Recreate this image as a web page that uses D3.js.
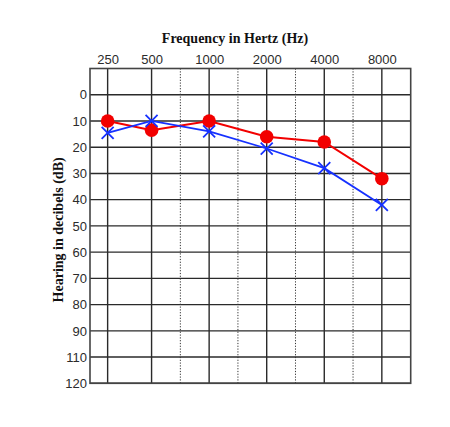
<!DOCTYPE html>
<html lang="en">

<head>
    <meta charset="UTF-8">
    <title>Audiogram</title>
    <style>
        body { margin: 0; background: #fff; }
    </style>
</head>

<body>
    <div id="my_dataviz"></div>
    <script src="https://d3js.org/d3.v7.min.js"></script>
    <script>

        // data
        var frequencies = [250, 500, 1000, 2000, 4000, 8000];
        var rightEar = [10, 13.5, 10, 16, 18, 32];   // red circles
        var leftEar = [14.5, 10, 14, 20.5, 28, 42];  // blue crosses
        var dbTicks = [0, 10, 20, 30, 40, 50, 60, 70, 80, 90, 100, 110];
        var dbTickLabels = ["0", "10", "20", "30", "40", "50", "60", "70", "80", "90", "110", "120"];

        // set the dimensions and margins of the graph
        var W = 450, H = 427;
        var margin = { top: 68.5, right: 39.3, bottom: 43.7, left: 90 },
            width = W - margin.left - margin.right,
            height = H - margin.top - margin.bottom;

        var svg = d3.select("#my_dataviz")
            .append("svg")
            .attr("width", W)
            .attr("height", H)
            .append("g")
            .attr("transform", "translate(" + margin.left + "," + margin.top + ")");

        // X: log spacing per octave, the first column is squeezed
        var x = d3.scaleLog()
            .domain([250, 500, 8000])
            .range([width * 0.055, width * 0.192, width * 0.910]);

        // Y: one row per 10 dB, the top row is above 0
        var y = d3.scaleLinear()
            .domain([-10, 110])
            .range([0, height]);

        var gridColor = "#2a2a2a";

        // horizontal grid
        svg.append("g")
            .selectAll("line")
            .data(dbTicks)
            .enter()
            .append("line")
            .attr("x1", 0)
            .attr("x2", width)
            .attr("y1", function (d) { return y(d); })
            .attr("y2", function (d) { return y(d); })
            .attr("stroke", gridColor)
            .attr("stroke-width", 1.4);

        // vertical grid
        svg.append("g")
            .selectAll("line")
            .data(frequencies)
            .enter()
            .append("line")
            .attr("x1", function (d) { return x(d); })
            .attr("x2", function (d) { return x(d); })
            .attr("y1", 0)
            .attr("y2", height)
            .attr("stroke", gridColor)
            .attr("stroke-width", 1.4);

        // dotted half-octave lines
        var mids = frequencies.slice(1, -1).map(function (f, i) { return Math.sqrt(f * frequencies[i + 2]); });
        svg.append("g")
            .selectAll("line")
            .data(mids)
            .enter()
            .append("line")
            .attr("x1", function (d) { return x(d); })
            .attr("x2", function (d) { return x(d); })
            .attr("y1", 0)
            .attr("y2", height)
            .attr("stroke", "#333")
            .attr("stroke-width", 1)
            .attr("stroke-dasharray", "1.2,1.6");

        // frame
        svg.append("rect")
            .attr("width", width)
            .attr("height", height)
            .attr("fill", "none")
            .attr("stroke", "#444")
            .attr("stroke-width", 1.6);

        // top axis labels
        var xAxis = svg.append("g")
            .call(d3.axisTop(x).tickValues(frequencies).tickFormat(d3.format("d")).tickSize(0).tickPadding(4.5));
        xAxis.select(".domain").remove();

        // left axis labels
        var yAxis = svg.append("g")
            .call(d3.axisLeft(y).tickValues(dbTicks)
                .tickFormat(function (d, i) { return dbTickLabels[i]; })
                .tickSize(0).tickPadding(3));
        yAxis.select(".domain").remove();

        svg.selectAll(".tick text")
            .attr("font-family", "Liberation Sans, Arial, sans-serif")
            .attr("font-size", 13)
            .attr("fill", "#2b2b2b");

        // titles
        svg.append("text")
            .attr("x", 235 - margin.left)
            .attr("y", 43 - margin.top)
            .attr("text-anchor", "middle")
            .attr("font-family", "Liberation Serif, serif")
            .attr("font-weight", "bold")
            .attr("font-size", 14)
            .attr("fill", "#111")
            .text("Frequency in Hertz (Hz)");

        svg.append("text")
            .attr("transform", "translate(" + (63 - margin.left) + "," + (height / 2 + 4) + ")rotate(-90)")
            .attr("text-anchor", "middle")
            .attr("font-family", "Liberation Serif, serif")
            .attr("font-weight", "bold")
            .attr("font-size", 14)
            .attr("fill", "#111")
            .text("Hearing in decibels (dB)");

        var red = "#f20000", blue = "#1631ff";
        var line = d3.line()
            .x(function (d) { return x(d[0]); })
            .y(function (d) { return y(d[1]); });

        // right ear: red line + circles
        var redPts = frequencies.map(function (f, i) { return [f, rightEar[i]]; });
        svg.append("path")
            .datum(redPts)
            .attr("d", line)
            .attr("fill", "none")
            .attr("stroke", red)
            .attr("stroke-width", 2);
        svg.selectAll("circle.r")
            .data(redPts)
            .enter()
            .append("circle")
            .attr("class", "r")
            .attr("cx", function (d) { return x(d[0]); })
            .attr("cy", function (d) { return y(d[1]); })
            .attr("r", 6.8)
            .attr("fill", red);

        // left ear: blue line + crosses
        var bluePts = frequencies.map(function (f, i) { return [f, leftEar[i]]; });
        svg.append("path")
            .datum(bluePts)
            .attr("d", line)
            .attr("fill", "none")
            .attr("stroke", blue)
            .attr("stroke-width", 1.8);
        var s = 6;
        svg.selectAll("path.x")
            .data(bluePts)
            .enter()
            .append("path")
            .attr("class", "x")
            .attr("d", function (d) {
                var cx = x(d[0]), cy = y(d[1]);
                return "M" + (cx - s) + "," + (cy - s) + "L" + (cx + s) + "," + (cy + s) +
                    "M" + (cx - s) + "," + (cy + s) + "L" + (cx + s) + "," + (cy - s);
            })
            .attr("stroke", blue)
            .attr("stroke-width", 1.8)
            .attr("fill", "none");

    </script>
</body>

</html>
